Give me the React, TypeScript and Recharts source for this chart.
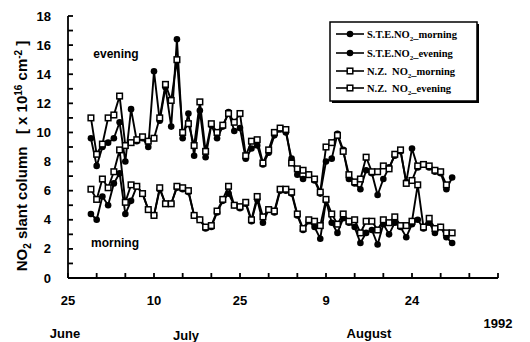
import React from 'react';
import { LineChart, Line, XAxis, YAxis, Customized } from 'recharts';

// day 0 = 25 June 1992
const days = [
  4, 5, 6, 7, 8, 9, 10, 11, 12, 13, 14, 15, 16, 17, 18, 19, 20, 21, 22, 23, 24, 25,
  26, 27, 28, 29, 30, 31, 32, 33, 34, 35, 36, 37, 38, 39, 40, 41, 42, 43, 44, 45,
  46, 47, 48, 49, 50, 51, 52, 53, 54, 55, 56, 57, 58, 59, 60, 61, 62, 63, 64, 65,
  66, 67,
];

const steMorning = [
  4.4, 4.0, 5.6, 5.0, 6.5, 7.2, 4.4, 5.3, 6.3, 5.8, 4.7, 4.3, 6.1, 5.1, 5.1, 6.2, 6.1, 5.9, 4.3, 4.0, 3.4, 3.5,
  4.5, 5.3, 5.8, 5.0, 4.8, 5.1, 3.9, 5.4, 3.8, 4.7, 4.5, 6.0, 6.0, 5.8, 4.3, 3.3, 3.9, 3.5, 2.7, 5.3,
  3.8, 3.1, 4.1, 3.8, 3.5, 2.4, 3.1, 3.3, 2.3, 3.7, 3.0, 3.8, 3.5, 2.8, 3.7, 4.0, 3.4, 3.8, 3.1, 3.5,
  2.8, 2.4,
];

const steEvening = [
  9.6, 7.7, 9.0, 9.3, 9.6, 10.7, 8.0, 11.6, 9.4, 9.6, 9.0, 14.2, 10.8, 13.1, 10.4, 16.4, 9.6, 11.3, 8.4, 11.5, 8.3, 10.5,
  9.6, 10.4, 11.4, 10.1, 10.3, 8.2, 8.9, 9.1, 7.8, 8.6, 9.8, 10.2, 10.0, 8.2, 7.1, 6.8, 7.1, 6.7, 5.8, 8.0,
  8.2, 9.9, 8.8, 6.8, 6.5, 6.1, 7.4, 7.2, 5.7, 6.8, 7.6, 8.4, 8.7, 6.6, 8.9, 7.6, 7.8, 7.6, 7.3, 7.2,
  6.1, 6.9,
];

const nzMorning = [
  6.1, 5.4, 6.8, 6.2, 7.3, 8.8, 5.2, 6.4, 6.3, 5.8, 4.7, 4.3, 6.2, 5.1, 5.1, 6.3, 6.2, 6.0, 4.3, 4.0, 3.5, 3.6,
  4.6, 5.4, 6.3, 5.0, 4.9, 5.2, 4.0, 5.6, 4.2, 4.7, 4.6, 6.1, 6.1, 5.9, 4.4, 3.4, 4.0, 3.9, 3.6, 5.4,
  4.4, 3.7, 4.4, 3.9, 4.0, 3.1, 3.9, 3.9, 3.3, 4.0, 3.8, 4.2, 3.6, 3.6, 3.9, 6.4, 3.5, 4.1, 3.4, 3.5,
  3.1, 3.1,
];

const nzEvening = [
  11.0, 8.5, 9.2, 11.0, 11.2, 12.5, 9.1, 9.3, 9.5, 9.7, 9.4, 9.6, 11.0, 13.3, 12.2, 15.0, 10.0, 10.6, 9.1, 12.1, 8.7, 10.6,
  10.0, 10.5, 11.3, 10.7, 11.3, 8.4, 9.4, 9.5, 7.9, 8.8, 10.0, 10.3, 10.2, 7.9, 7.5, 7.4, 7.1, 6.8, 5.9, 9.0,
  9.3, 9.8, 8.7, 7.1, 6.6, 6.8, 8.3, 7.3, 7.3, 7.7, 7.5, 8.5, 8.8, 6.5, 6.7, 7.7, 7.8, 7.7, 7.4, 7.3,
  6.4, null,
];

const xTicks = [0, 5, 10, 15, 20, 25, 30, 35, 40, 45, 50, 55, 60, 65, 70, 75];
const xLabels: Record<number, string> = { 0: '25', 15: '10', 30: '25', 45: '9', 60: '24' };
const yTicks = [0, 1, 2, 3, 4, 5, 6, 7, 8, 9, 10, 11, 12, 13, 14, 15, 16, 17, 18];

const data = days.map((d, i) => ({
  day: d,
  steMorning: steMorning[i],
  steEvening: steEvening[i],
  nzMorning: nzMorning[i],
  nzEvening: nzEvening[i],
}));

const font = '"Liberation Sans", Arial, sans-serif';
const legendFont = '"Liberation Serif", "Times New Roman", serif';

const FilledDot = (props: any) => {
  const { cx, cy, value } = props;
  if (cx == null || cy == null || value == null) return <g />;
  return <circle cx={cx} cy={cy} r={3.3} fill="#000" />;
};

const OpenSquare = (props: any) => {
  const { cx, cy, value } = props;
  if (cx == null || cy == null || value == null) return <g />;
  return <rect x={cx - 2.8} y={cy - 2.8} width={5.6} height={5.6} fill="#fff" stroke="#000" strokeWidth={1.5} />;
};

// inward ticks, drawn by hand
const BottomTick = (props: any) => {
  const { x, y, payload } = props;
  const label = xLabels[payload.value];
  return (
    <g>
      <path d={`M${x},${y}V${y - 5}`} stroke="#000" strokeWidth={1.8} fill="none" />
      {label && (
        <text x={x} y={y + 27} textAnchor="middle" fontSize={13} fontWeight="bold" fontFamily={font} fill="#000">
          {label}
        </text>
      )}
    </g>
  );
};

const TopTick = (props: any) => {
  const { x, y } = props;
  return <path d={`M${x},${y}V${y + 5}`} stroke="#000" strokeWidth={1.8} fill="none" />;
};

const LeftTick = (props: any) => {
  const { x, y, payload } = props;
  const v = payload.value;
  return (
    <g>
      <path d={`M${x},${y}H${x + 5}`} stroke="#000" strokeWidth={1.8} fill="none" />
      {v % 2 === 0 && (
        <text x={x - 17} y={y + 4.5} textAnchor="end" fontSize={13} fontWeight="bold" fontFamily={font} fill="#000">
          {v}
        </text>
      )}
    </g>
  );
};

const RightTick = (props: any) => {
  const { x, y } = props;
  return <path d={`M${x},${y}H${x - 5}`} stroke="#000" strokeWidth={1.8} fill="none" />;
};

const legendRows = [
  { y: 34, who: 'S.T.E.NO', when: '_morning', filled: true },
  { y: 53, who: 'S.T.E.NO', when: '_evening', filled: true },
  { y: 71, who: 'N.Z.  NO', when: '_morning', filled: false },
  { y: 88, who: 'N.Z.  NO', when: '_evening', filled: false },
];

const Extras = () => (
  <g>
    {/* y axis title */}
    <text
      transform="translate(27,156) rotate(-90)"
      textAnchor="middle"
      fontSize={15}
      fontWeight="bold"
      fontFamily={font}
      fill="#000"
      style={{ whiteSpace: 'pre' }}
    >
      NO<tspan dy={4} fontSize={10}>2</tspan>
      <tspan dy={-4}> slant column   [ x 10</tspan>
      <tspan dy={-5} fontSize={10}>16</tspan>
      <tspan dy={5}> cm</tspan>
      <tspan dy={-5} fontSize={10}>-2</tspan>
      <tspan dy={5}> ]</tspan>
    </text>

    <text x={116} y={58} textAnchor="middle" fontSize={12} fontWeight="bold" fontFamily={font}>evening</text>
    <text x={115} y={247} textAnchor="middle" fontSize={12} fontWeight="bold" fontFamily={font}>morning</text>

    {/* month labels */}
    <g fontSize={13} fontWeight="bold" fontFamily={font} textAnchor="middle" fill="#000">
      <text x={65} y={338}>June</text>
      <text x={186} y={340}>July</text>
      <text x={369} y={338}>August</text>
      <text x={498} y={328}>1992</text>
    </g>

    {/* legend */}
    <rect x={332} y={24} width={147} height={79} fill="#000" />
    <rect x={330} y={22} width={147} height={79} fill="#fff" stroke="#000" strokeWidth={1.5} />
    {legendRows.map((r) => (
      <g key={r.y + r.when}>
        <line x1={336} x2={364} y1={r.y} y2={r.y} stroke="#000" strokeWidth={1.6} />
        {r.filled ? (
          <circle cx={350} cy={r.y} r={3.3} fill="#000" />
        ) : (
          <rect x={347.2} y={r.y - 2.8} width={5.6} height={5.6} fill="#fff" stroke="#000" strokeWidth={1.5} />
        )}
        <text x={367} y={r.y + 3.5} fontSize={10.5} fontWeight="bold" fontFamily={legendFont} style={{ whiteSpace: 'pre' }}>
          {r.who}
          <tspan dy={3} fontSize={7}>2</tspan>
          <tspan dy={-3}>{r.when}</tspan>
        </text>
      </g>
    ))}
  </g>
);

const axisStroke = { stroke: '#000', strokeWidth: 1.8 };

export default function App() {
  return (
    <div style={{ position: 'absolute', left: 0, top: 0, width: 530, height: 342, background: '#fff' }}>
      <LineChart width={530} height={342} data={data} margin={{ top: 16, right: 32, bottom: 34, left: 28 }}>
        <XAxis
          dataKey="day"
          type="number"
          domain={[0, 75]}
          ticks={xTicks}
          interval={0}
          tickSize={0}
          tickMargin={0}
          height={30}
          axisLine={axisStroke}
          tickLine={false}
          tick={BottomTick}
        />
        <XAxis
          xAxisId="top"
          orientation="top"
          dataKey="day"
          type="number"
          domain={[0, 75]}
          ticks={xTicks}
          interval={0}
          tickSize={0}
          tickMargin={0}
          height={0}
          axisLine={axisStroke}
          tickLine={false}
          tick={TopTick}
        />
        <YAxis
          type="number"
          domain={[0, 18]}
          ticks={yTicks}
          interval={0}
          tickSize={0}
          tickMargin={0}
          width={40}
          axisLine={axisStroke}
          tickLine={false}
          tick={LeftTick}
        />
        <YAxis
          yAxisId="right"
          orientation="right"
          type="number"
          domain={[0, 18]}
          ticks={yTicks}
          interval={0}
          tickSize={0}
          tickMargin={0}
          width={0}
          axisLine={axisStroke}
          tickLine={false}
          tick={RightTick}
        />
        <Line dataKey="steMorning" stroke="#000" strokeWidth={1.9} dot={FilledDot} isAnimationActive={false} connectNulls />
        <Line dataKey="nzMorning" stroke="#000" strokeWidth={1.9} dot={OpenSquare} isAnimationActive={false} connectNulls />
        <Line dataKey="steEvening" stroke="#000" strokeWidth={1.9} dot={FilledDot} isAnimationActive={false} connectNulls />
        <Line dataKey="nzEvening" stroke="#000" strokeWidth={1.9} dot={OpenSquare} isAnimationActive={false} connectNulls />
        <Customized component={Extras} />
      </LineChart>
    </div>
  );
}
